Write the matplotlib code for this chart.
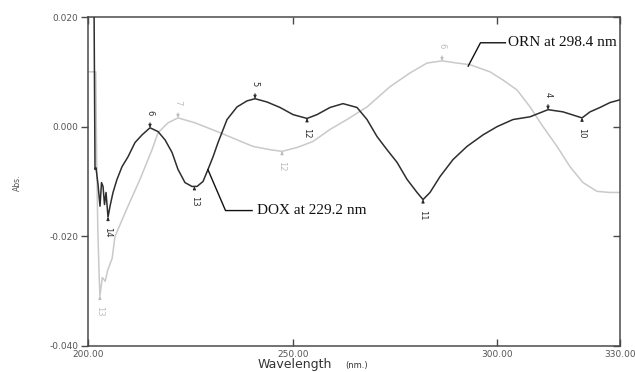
import numpy as np
import matplotlib
matplotlib.use("Agg")
import matplotlib.pyplot as plt

# DOX (black) spectrum
dox_wl = [201.45, 201.71, 201.95, 202.44, 202.93, 203.30, 203.67, 204.03, 204.40, 204.89,
          205.38, 206.11, 207.09, 208.31, 209.77, 211.48, 213.20, 215.15, 217.11, 218.82,
          220.53, 221.99, 223.70, 225.41, 226.64, 228.10, 229.32, 230.55, 231.77, 233.97,
          236.41, 238.85, 240.81, 243.74, 246.92, 250.09, 253.52, 255.96, 259.14, 262.31,
          265.73, 268.18, 270.62, 273.06, 275.51, 277.95, 280.40, 281.86, 283.57, 286.02,
          289.19, 292.61, 296.52, 299.94, 303.85, 308.01, 312.41, 316.07, 320.72, 322.67,
          325.11, 327.56, 330.0]
dox_abs = [0.025, -0.0078, -0.0075, -0.0105, -0.0145, -0.0102, -0.0109, -0.0142, -0.0120,
           -0.0165, -0.0145, -0.0120, -0.0096, -0.0073, -0.0055, -0.0029, -0.0015, -0.0002,
           -0.0009, -0.0024, -0.0047, -0.0078, -0.0102, -0.0109, -0.0109, -0.0100, -0.0078,
           -0.0055, -0.0029, 0.0013, 0.0036, 0.0047, 0.0051, 0.0045, 0.0035, 0.0022, 0.0015,
           0.0022, 0.0035, 0.0042, 0.0035, 0.0013, -0.0018, -0.0042, -0.0065, -0.0096,
           -0.0120, -0.0133, -0.0120, -0.0091, -0.0060, -0.0036, -0.0015, 0.0000, 0.0013,
           0.0018, 0.0031, 0.0027, 0.0016, 0.0027, 0.0035, 0.0044, 0.0049]

# ORN (grey) spectrum
orn_wl = [200.2, 201.9, 202.1, 202.4, 202.7, 202.9, 203.5, 204.2, 204.8, 205.9, 206.6,
          209.77, 212.71, 215.64, 217.11, 219.55, 221.99, 226.15, 232.26, 236.41, 240.32,
          244.47, 247.41, 251.07, 254.98, 259.14, 263.29, 268.18, 273.80, 278.68, 282.84,
          286.50, 290.17, 293.35, 298.23, 301.41, 304.83, 308.01, 311.19, 314.61, 317.78,
          320.96, 324.38, 327.56, 330.0]
orn_abs = [0.0100, 0.0100, -0.0050, -0.0190, -0.0265, -0.0309, -0.0275, -0.0282, -0.0262,
           -0.0240, -0.0200, -0.0145, -0.0096, -0.0042, -0.0011, 0.0007, 0.0016, 0.0007,
           -0.0011, -0.0024, -0.0036, -0.0042, -0.0045, -0.0038, -0.0027, -0.0005, 0.0013,
           0.0036, 0.0073, 0.0098, 0.0116, 0.0120, 0.0116, 0.0113, 0.0100, 0.0085, 0.0067,
           0.0036, 0.0000, -0.0036, -0.0073, -0.0102, -0.0118, -0.0120, -0.0120]

# Peak / valley markers
dox_peak_wl = [204.89, 215.15, 226.0, 240.81, 253.52, 281.86, 312.41, 320.72]
dox_peak_lbl = ["14", "6", "13", "5", "12", "11", "4", "10"]
dox_peak_max = [False, True, False, True, False, False, True, False]
orn_peak_wl = [202.9, 221.99, 247.41, 286.50]
orn_peak_lbl = ["13", "7", "12", "6"]
orn_peak_max = [False, True, False, True]

x_ticks = [200, 250, 300, 330]
x_tick_labels = ["200.00", "250.00", "300.00", "330.00"]
y_ticks = [-0.04, -0.02, 0.0, 0.02]
y_tick_labels = ["-0.040", "-0.020", "0.000", "0.020"]

DARK = "#2e2e2e"
GREY = "#c9c9c9"
AX = "#4a4a4a"

fig = plt.figure(figsize=(6.35, 3.72), dpi=100)
ax = fig.add_axes([0.1386, 0.0699, 0.8378, 0.8844])

ax.plot(orn_wl, orn_abs, color=GREY, lw=1.1, zorder=2)
ax.plot(dox_wl, dox_abs, color=DARK, lw=1.1, zorder=3)

ax.set_xlim(200, 330)
ax.set_ylim(-0.04, 0.02)
ax.set_xticks(x_ticks)
ax.set_xticklabels(x_tick_labels)
ax.set_yticks(y_ticks)
ax.set_yticklabels(y_tick_labels)
ax.tick_params(axis="x", direction="in", top=True, length=5, width=1, colors=AX,
               labelsize=6.5, pad=3, labelcolor="#555555")
ax.tick_params(axis="y", direction="out", length=5, width=1, colors=AX,
               labelsize=6.5, pad=2, labelcolor="#555555")
ax.tick_params(axis="y", which="both", right=True)
for s in ax.spines.values():
    s.set_color(AX)
    s.set_linewidth(1.1)
# right ticks inward
for t in ax.yaxis.get_ticklines()[1::2]:
    t.set_marker(0)

def mark(wls, lbls, maxes, xs, ys, color):
    for w, l, m in zip(wls, lbls, maxes):
        y = np.interp(w, xs, ys)
        off = 11 if m else -11
        ax.annotate(l, xy=(w, y), xytext=(0, off), textcoords="offset points",
                    rotation=270, ha="center", va="center", fontsize=6, color=color,
                    arrowprops=dict(arrowstyle="-|>", lw=0.8, color=color,
                                    shrinkA=3.5, shrinkB=0, mutation_scale=4),
                    zorder=4)

mark(dox_peak_wl, dox_peak_lbl, dox_peak_max, dox_wl, dox_abs, DARK)
mark(orn_peak_wl, orn_peak_lbl, orn_peak_max, orn_wl, orn_abs, "#bdbdbd")

# Callouts
dox_pt = 229.3
ax.plot([dox_pt, 233.6, 240.1], [np.interp(dox_pt, dox_wl, dox_abs), -0.0153, -0.0153],
        color="#111111", lw=1.0, zorder=5)
ax.text(241.4, -0.0153, "DOX at 229.2 nm", family="Liberation Serif", fontsize=11,
        va="center", ha="left", color="#111111")

orn_pt = 292.9
ax.plot([orn_pt, 295.9, 302.0], [np.interp(orn_pt, orn_wl, orn_abs) - 0.0003, 0.0153, 0.0153],
        color="#111111", lw=1.0, zorder=5)
ax.text(302.6, 0.0153, "ORN at 298.4 nm", family="Liberation Serif", fontsize=11,
        va="center", ha="left", color="#111111")

fig.text(0.028, 0.51, "Abs.", rotation=90, fontsize=5.5, ha="center", va="center",
         color="#555555")
fig.text(0.405, 0.011, "Wavelength", fontsize=9, ha="left", va="baseline", color="#333333")
fig.text(0.543, 0.011, "(nm.)", fontsize=6, ha="left", va="baseline", color="#333333")

fig.savefig("out.png", dpi=100)
